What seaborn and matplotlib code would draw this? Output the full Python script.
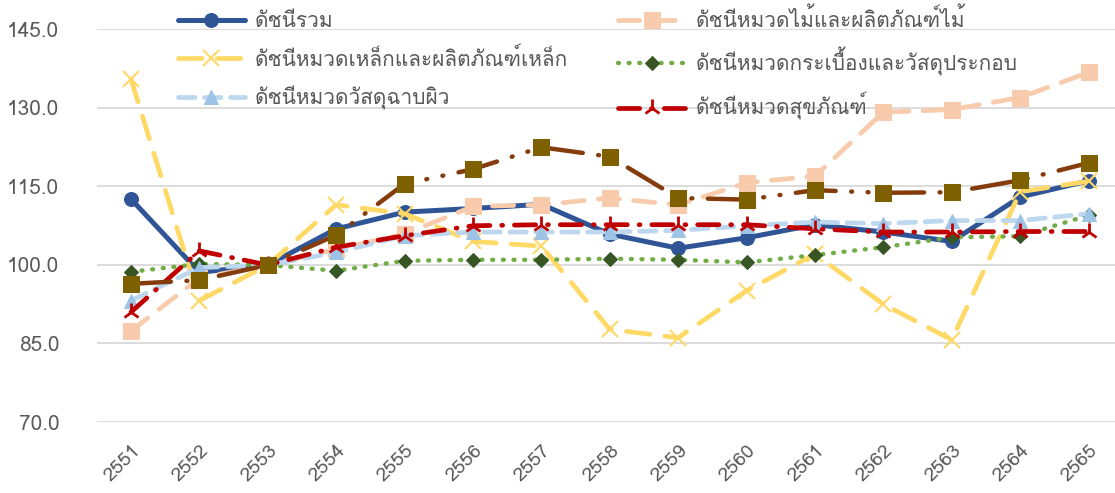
import numpy as np
import pandas as pd
import matplotlib
matplotlib.use("Agg")
import matplotlib.pyplot as plt
import seaborn as sns
from matplotlib import font_manager
from matplotlib.ft2font import FT2Font

# years (Thai Buddhist calendar) and index values
years = [2551, 2552, 2553, 2554, 2555, 2556, 2557, 2558, 2559, 2560, 2561, 2562, 2563, 2564, 2565]
total_idx = [112.6, 98.6, 100.0, 106.9, 110.1, 110.8, 111.6, 105.9, 103.2, 105.2, 107.7, 106.3, 104.5, 113.0, 116.1]
wood_idx = [87.4, 97.5, 100.0, 103.0, 105.9, 111.2, 111.5, 112.8, 111.5, 115.7, 117.0, 129.2, 129.7, 132.0, 136.8]
steel_idx = [135.5, 93.2, 100.0, 111.5, 109.8, 104.5, 103.6, 87.7, 86.1, 95.1, 102.1, 92.5, 85.7, 114.0, 116.0]
tile_idx = [98.7, 100.2, 100.0, 98.9, 100.8, 101.0, 101.0, 101.2, 101.0, 100.5, 101.9, 103.4, 105.3, 105.5, 109.5]
coating_idx = [93.2, 99.5, 100.0, 102.4, 105.6, 106.3, 106.3, 106.3, 106.6, 107.5, 108.2, 107.9, 108.5, 108.5, 109.8]
sanitary_idx = [91.0, 102.7, 100.0, 103.4, 105.6, 107.5, 107.7, 107.7, 107.7, 107.7, 106.9, 106.3, 106.3, 106.4, 106.4]
cement_idx = [96.4, 97.1, 100.0, 105.7, 115.5, 118.3, 122.5, 120.7, 112.8, 112.5, 114.3, 113.8, 113.9, 116.2, 119.5]

labels = {
    "total": "ดัชนีรวม",
    "wood": "ดัชนีหมวดไม้และผลิตภัณฑ์ไม้",
    "steel": "ดัชนีหมวดเหล็กและผลิตภัณฑ์เหล็ก",
    "tile": "ดัชนีหมวดกระเบื้องและวัสดุประกอบ",
    "coating": "ดัชนีหมวดวัสดุฉาบผิว",
    "sanitary": "ดัชนีหมวดสุขภัณฑ์",
}


def find_thai_font():
    for f in font_manager.fontManager.ttflist:
        try:
            cmap = FT2Font(f.fname).get_charmap()
        except Exception:
            continue
        if 0x0E14 in cmap and 0x0E0A in cmap and 0x0E35 in cmap:
            return f.name
    return None


sns.set_style("white")
thai_font = find_thai_font()
fams = ([thai_font] if thai_font else []) + ["DejaVu Sans"]
plt.rcParams["font.family"] = fams

df = pd.DataFrame({"year": years})

fig = plt.figure(figsize=(11.15, 4.93), dpi=100)
ax = fig.add_axes([96.8 / 1115, 1 - 422 / 493, 1026 / 1115, (422 - 29.5) / 493])

gray = "#595959"
series = [
    ("total", total_idx, dict(color="#2F5597", linestyle="-", lw=3.6, marker="o", ms=10,
                              markeredgecolor="#2F5597", markerfacecolor="#2F5597")),
    ("wood", wood_idx, dict(color="#F8CBAD", linestyle=(0, (4.5, 3)), lw=3.4, marker="s", ms=11,
                            markeredgecolor="#F8CBAD", markerfacecolor="#F8CBAD")),
    ("steel", steel_idx, dict(color="#FFD966", linestyle=(0, (5, 3.2)), lw=3.4, marker="x", ms=11,
                              markeredgecolor="#FFD966", mew=1.5)),
    ("tile", tile_idx, dict(color="#70AD47", linestyle=(0, (0.2, 2.2)), lw=3.2, marker="D", ms=7,
                            markeredgecolor="#375623", markerfacecolor="#375623")),
    ("coating", coating_idx, dict(color="#BDD7EE", linestyle=(0, (3.5, 2)), lw=3.4, marker="^", ms=10,
                                  markeredgecolor="#9DC3E6", markerfacecolor="#9DC3E6")),
    ("sanitary", sanitary_idx, dict(color="#C00000", linestyle=(0, (4.5, 2.5, 0.2, 2.5)), lw=3.4,
                                    marker="2", ms=13, markeredgecolor="#C00000", mew=2)),
    ("cement", cement_idx, dict(color="#843C0C", linestyle=(0, (9, 3.5, 0.2, 3.5, 0.2, 3.5)), lw=3.2,
                                marker="s", ms=11, markeredgecolor="#7F6000", markerfacecolor="#7F6000")),
]

handles = {}
for key, vals, style in series:
    df[key] = vals
    lab = labels.get(key, "_" + key)
    sns.lineplot(data=df, x="year", y=key, ax=ax, label=lab,
                 dash_capstyle="round", solid_capstyle="round", **style)
    handles[key] = ax.get_lines()[-1]

ax.set_xlim(years[0] - 0.5, years[-1] + 0.5)
ax.set_ylim(70, 145)
ax.set_yticks(np.arange(70, 146, 15))
ax.set_yticklabels([f"{v:.1f}" for v in np.arange(70, 146, 15)])
ax.set_xticks(years)
ax.set_xticklabels([str(y) for y in years], rotation=45, ha="right", va="top", rotation_mode="anchor")
ax.tick_params(axis="y", colors=gray, labelsize=15, pad=27, length=0)
ax.tick_params(axis="x", colors=gray, labelsize=14, pad=14, length=0)
ax.set_xlabel("")
ax.set_ylabel("")
ax.grid(axis="y", color="#D9D9D9", lw=1.3)
ax.set_axisbelow(True)
for s in ax.spines.values():
    s.set_visible(False)

ax.get_legend().remove()
order = ["total", "steel", "coating", "wood", "tile", "sanitary"]
leg = fig.legend([handles[k] for k in order], [labels[k] for k in order], ncol=2,
                 loc="upper left", bbox_to_anchor=(178 / 1115, 0.985), frameon=False,
                 borderpad=0, borderaxespad=0,
                 fontsize=15, handlelength=3.2, handletextpad=0.5, columnspacing=2.4,
                 labelspacing=0.78)
for t in leg.get_texts():
    t.set_color(gray)

fig.savefig("out.png", dpi=100)
